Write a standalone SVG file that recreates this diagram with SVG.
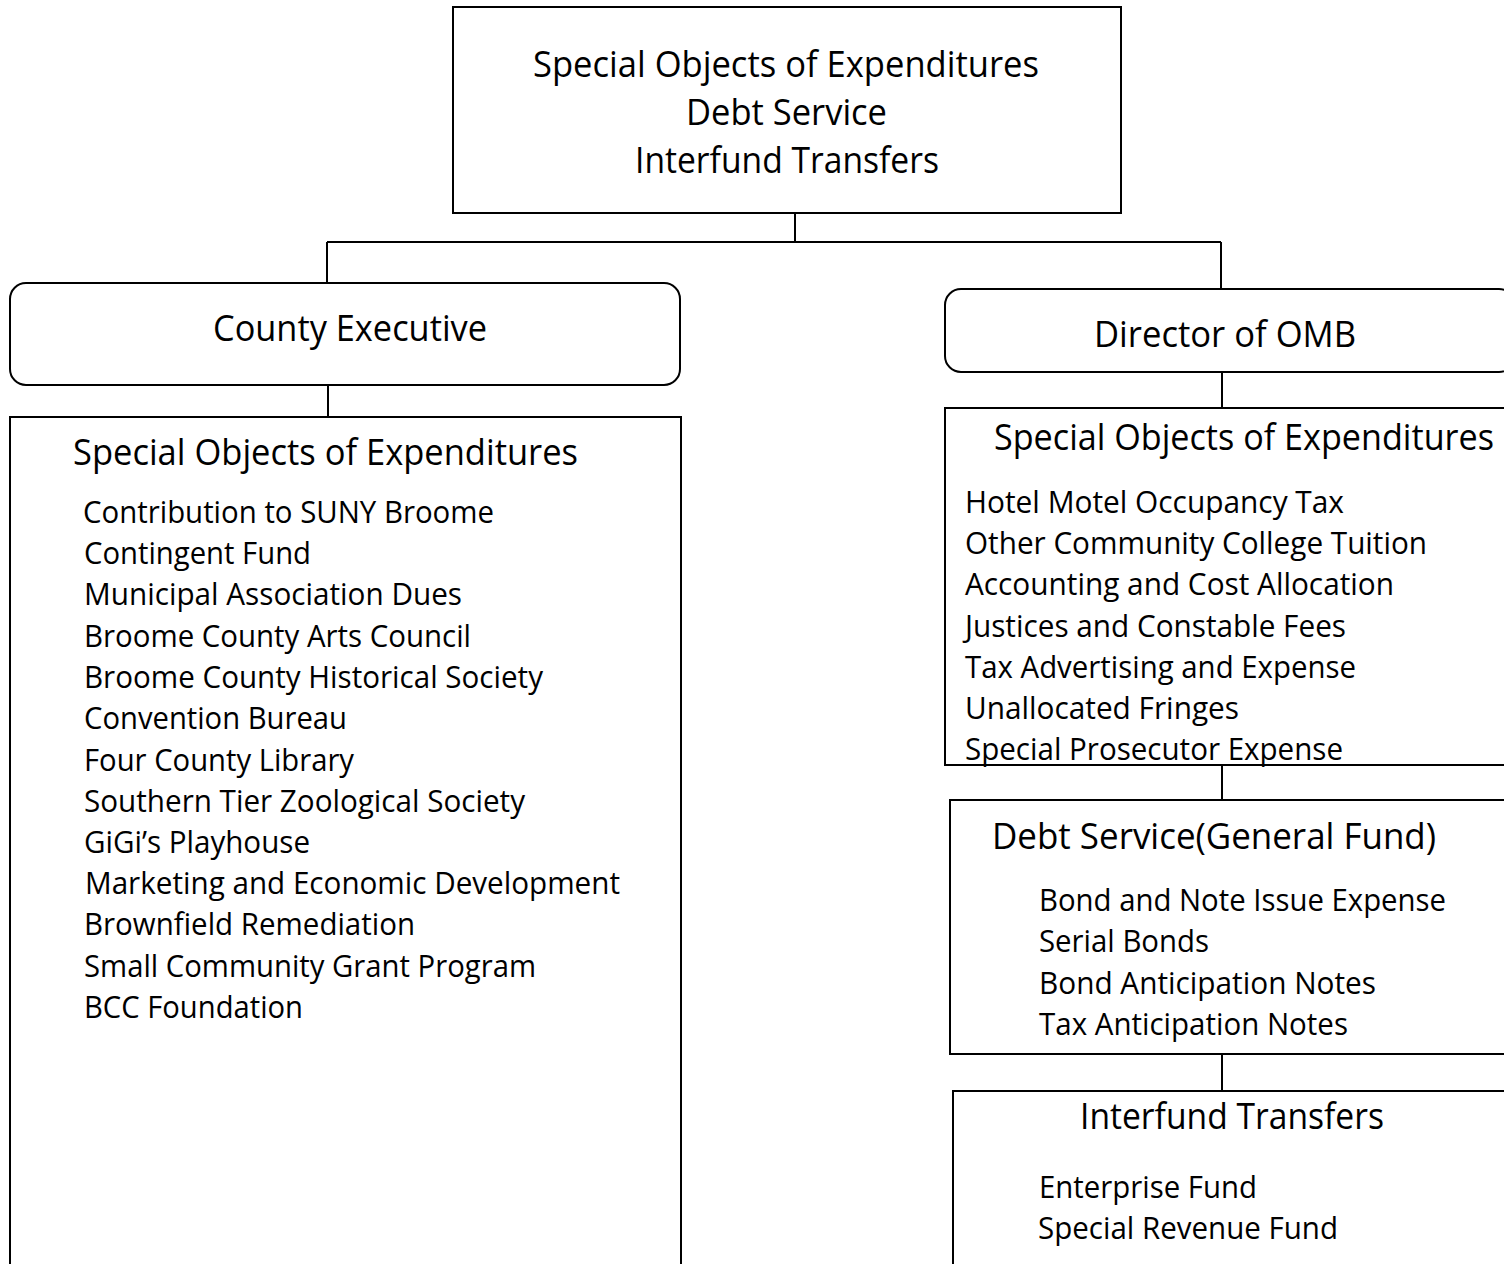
<svg xmlns="http://www.w3.org/2000/svg" width="1504" height="1264" viewBox="0 0 1504 1264">
<style>
.box{fill:#fff;stroke:#000;stroke-width:2}
.con{fill:none;stroke:#000;stroke-width:2}
text{font-family:"Open Sans","Noto Sans",sans-serif;fill:#000}
.h{font-size:36px}
.i{font-size:31px}
</style>
<rect width="1504" height="1264" fill="#fff"/>
<g id="connectors">
<path class="con" d="M795 213V242M327 242H1221M327 242V283M1221 242V289M328 385V417M1222 372V408M1222 765V800M1222 1054V1091"/>
</g>
<g id="top">
<rect class="box" x="453" y="7" width="668" height="206"/>
<text class="h" x="533" y="77" textLength="506" lengthAdjust="spacingAndGlyphs">Special Objects of Expenditures</text>
<text class="h" x="686" y="125" textLength="201" lengthAdjust="spacingAndGlyphs">Debt Service</text>
<text class="h" x="635" y="173" textLength="304" lengthAdjust="spacingAndGlyphs">Interfund Transfers</text>
</g>
<g id="county-executive">
<rect class="box" x="10" y="283" width="670" height="102" rx="16"/>
<text class="h" x="213" y="341" textLength="274" lengthAdjust="spacingAndGlyphs">County Executive</text>
</g>
<g id="director-omb">
<rect class="box" x="945" y="289" width="570" height="83" rx="16"/>
<text class="h" x="1094" y="347" textLength="262" lengthAdjust="spacingAndGlyphs">Director of OMB</text>
</g>
<g id="ce-special-objects">
<rect class="box" x="10" y="417" width="671" height="860"/>
<text class="h" x="73" y="465" textLength="505" lengthAdjust="spacingAndGlyphs">Special Objects of Expenditures</text>
<text class="i" x="83" y="523" textLength="411" lengthAdjust="spacingAndGlyphs">Contribution to SUNY Broome</text>
<text class="i" x="84" y="564" textLength="227" lengthAdjust="spacingAndGlyphs">Contingent Fund</text>
<text class="i" x="84" y="605" textLength="378" lengthAdjust="spacingAndGlyphs">Municipal Association Dues</text>
<text class="i" x="84" y="647" textLength="387" lengthAdjust="spacingAndGlyphs">Broome County Arts Council</text>
<text class="i" x="84" y="688" textLength="459" lengthAdjust="spacingAndGlyphs">Broome County Historical Society</text>
<text class="i" x="84" y="729" textLength="263" lengthAdjust="spacingAndGlyphs">Convention Bureau</text>
<text class="i" x="84" y="771" textLength="270" lengthAdjust="spacingAndGlyphs">Four County Library</text>
<text class="i" x="84" y="812" textLength="441" lengthAdjust="spacingAndGlyphs">Southern Tier Zoological Society</text>
<text class="i" x="84" y="853" textLength="226" lengthAdjust="spacingAndGlyphs">GiGi’s Playhouse</text>
<text class="i" x="85" y="894" textLength="535" lengthAdjust="spacingAndGlyphs">Marketing and Economic Development</text>
<text class="i" x="84" y="935" textLength="331" lengthAdjust="spacingAndGlyphs">Brownfield Remediation</text>
<text class="i" x="84" y="977" textLength="452" lengthAdjust="spacingAndGlyphs">Small Community Grant Program</text>
<text class="i" x="84" y="1018" textLength="219" lengthAdjust="spacingAndGlyphs">BCC Foundation</text>
</g>
<g id="omb-special-objects">
<rect class="box" x="945" y="408" width="570" height="357"/>
<text class="h" x="994" y="450" textLength="500" lengthAdjust="spacingAndGlyphs">Special Objects of Expenditures</text>
<text class="i" x="965" y="513" textLength="379" lengthAdjust="spacingAndGlyphs">Hotel Motel Occupancy Tax</text>
<text class="i" x="965" y="554" textLength="462" lengthAdjust="spacingAndGlyphs">Other Community College Tuition</text>
<text class="i" x="965" y="595" textLength="429" lengthAdjust="spacingAndGlyphs">Accounting and Cost Allocation</text>
<text class="i" x="965" y="637" textLength="381" lengthAdjust="spacingAndGlyphs">Justices and Constable Fees</text>
<text class="i" x="965" y="678" textLength="391" lengthAdjust="spacingAndGlyphs">Tax Advertising and Expense</text>
<text class="i" x="965" y="719" textLength="274" lengthAdjust="spacingAndGlyphs">Unallocated Fringes</text>
<text class="i" x="965" y="760" textLength="378" lengthAdjust="spacingAndGlyphs">Special Prosecutor Expense</text>
</g>
<g id="debt-service">
<rect class="box" x="950" y="800" width="570" height="254"/>
<text class="h" x="992" y="849" textLength="444" lengthAdjust="spacingAndGlyphs">Debt Service(General Fund)</text>
<text class="i" x="1039" y="911" textLength="407" lengthAdjust="spacingAndGlyphs">Bond and Note Issue Expense</text>
<text class="i" x="1039" y="952" textLength="170" lengthAdjust="spacingAndGlyphs">Serial Bonds</text>
<text class="i" x="1039" y="994" textLength="337" lengthAdjust="spacingAndGlyphs">Bond Anticipation Notes</text>
<text class="i" x="1039" y="1035" textLength="309" lengthAdjust="spacingAndGlyphs">Tax Anticipation Notes</text>
</g>
<g id="interfund-transfers">
<rect class="box" x="953" y="1091" width="570" height="200"/>
<text class="h" x="1080" y="1129" textLength="304" lengthAdjust="spacingAndGlyphs">Interfund Transfers</text>
<text class="i" x="1039" y="1198" textLength="218" lengthAdjust="spacingAndGlyphs">Enterprise Fund</text>
<text class="i" x="1038" y="1239" textLength="300" lengthAdjust="spacingAndGlyphs">Special Revenue Fund</text>
</g>
</svg>
